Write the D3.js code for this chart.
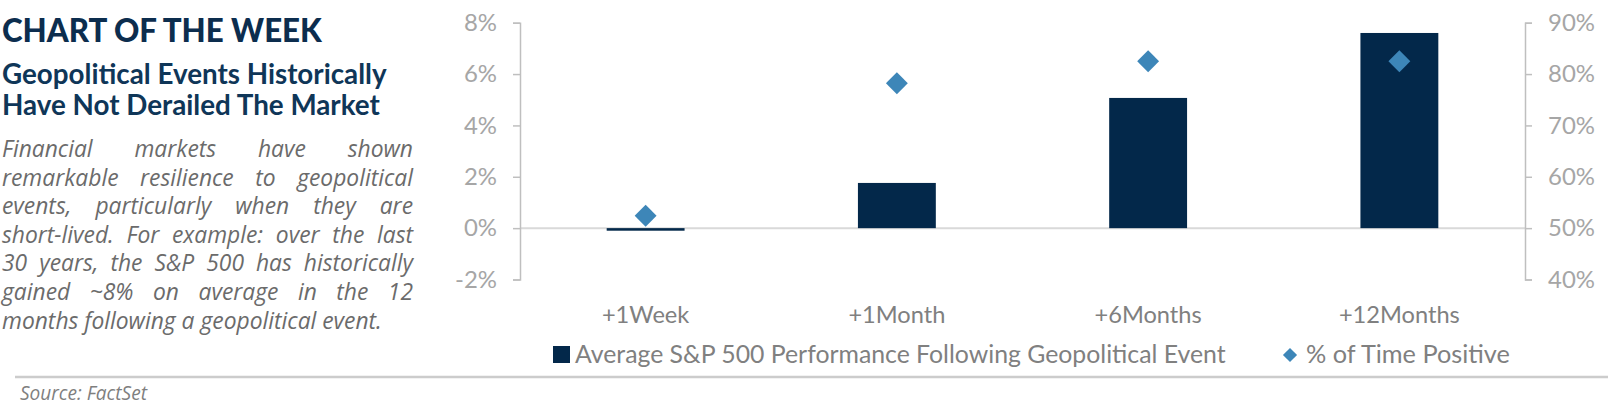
<!DOCTYPE html>
<html>
<head>
<meta charset="utf-8">
<script src="https://cdn.jsdelivr.net/npm/d3@7"></script>
<style>
  html, body { margin: 0; padding: 0; background: #fff; }
  svg { display: block; }
</style>
</head>
<body>
<div id="chart-wrapper"></div>
<script>
// Data
const categories = ["+1Week", "+1Month", "+6Months", "+12Months"];
const avgPerformance = [-0.1, 1.76, 5.07, 7.6];      // % (left axis)
const pctTimePositive = [52.4, 78.2, 82.5, 82.5];    // % (right axis)
const leftTicks = [-2, 0, 2, 4, 6, 8];
const rightTicks = [40, 50, 60, 70, 80, 90];
const legendLabels = ["Average S&P 500 Performance Following Geopolitical Event", "% of Time Positive"];

const titleText = "CHART OF THE WEEK";
const subtitleLines = ["Geopolitical Events Historically", "Have Not Derailed The Market"];
const bodyLines = [
  "Financial markets have shown",
  "remarkable resilience to geopolitical",
  "events, particularly when they are",
  "short-lived. For example: over the last",
  "30 years, the S&P 500 has historically",
  "gained ~8% on average in the 12",
  "months following a geopolitical event."
];
const sourceText = "Source: FactSet";

const width = 1620;
const height = 405;
const plot = {left: 520, right: 1525, top: 22.7, bottom: 279.5};

const navy = "#03284a";
const blue = "#3d86b8";
const axisGrey = "#bfbfbf";
const chartFont = "Lato, 'DejaVu Sans', sans-serif";

const svg = d3.select("#chart-wrapper").append("svg")
  .attr("width", width)
  .attr("height", height)
  .attr("viewBox", [0, 0, width, height]);

// grow/shrink font size so a text spans a given width
function fitWidth(sel, target) {
  const w = sel.node().getComputedTextLength();
  const fs = parseFloat(sel.attr("font-size"));
  sel.attr("font-size", fs * target / w);
  return fs * target / w;
}

// Left panel
const title = svg.append("text")
  .attr("x", 2).attr("y", 42)
  .attr("font-family", "Lato, sans-serif")
  .attr("font-weight", 900)
  .attr("font-size", 30)
  .attr("fill", "#0c2d4e")
  .text(titleText);
fitWidth(title, 320);

let subSize = 26;
subtitleLines.forEach((line, i) => {
  const t = svg.append("text")
    .attr("x", 2).attr("y", 84 + i * 31)
    .attr("font-family", "Lato, sans-serif")
    .attr("font-weight", 700)
    .attr("font-size", subSize)
    .attr("fill", "#0f3658")
    .text(line);
  if (i === 0) subSize = fitWidth(t, 385);
});

// justified italic paragraph
const body = svg.append("g")
  .attr("font-family", "'Open Sans', sans-serif")
  .attr("font-style", "italic")
  .attr("fill", "#6b6b6b");
const probe = body.append("text").attr("font-size", 20).text(bodyLines[bodyLines.length - 1]);
const bodySize = fitWidth(probe, 380);
probe.remove();

const bodyLeft = 2, bodyRight = 413;
bodyLines.forEach((line, i) => {
  const y = 157 + i * 28.6;
  if (i === bodyLines.length - 1) {
    body.append("text").attr("x", bodyLeft).attr("y", y).attr("font-size", bodySize).text(line);
    return;
  }
  const words = line.split(" ");
  const nodes = words.map(w => body.append("text").attr("y", y).attr("font-size", bodySize).text(w));
  const widths = nodes.map(n => n.node().getComputedTextLength());
  const gap = (bodyRight - bodyLeft - d3.sum(widths)) / (words.length - 1);
  let x = bodyLeft;
  nodes.forEach((n, j) => { n.attr("x", x); x += widths[j] + gap; });
});

// separator and source
svg.append("line")
  .attr("x1", 15).attr("x2", 1608)
  .attr("y1", 377).attr("y2", 377)
  .attr("stroke", "#cccccc")
  .attr("stroke-width", 2.5);

const source = svg.append("text")
  .attr("x", 20).attr("y", 400)
  .attr("font-family", "'Open Sans', sans-serif")
  .attr("font-style", "italic")
  .attr("font-size", 15)
  .attr("fill", "#7f7f7f")
  .text(sourceText);
fitWidth(source, 127);

// Scales
const x = d3.scaleBand()
  .domain(categories)
  .range([plot.left, plot.right])
  .paddingInner(0.69)
  .paddingOuter(0.345);

const yLeft = d3.scaleLinear()
  .domain([-2, 8])
  .range([plot.bottom, plot.top]);

const yRight = d3.scaleLinear()
  .domain([40, 90])
  .range([plot.bottom, plot.top]);

// zero line
svg.append("line")
  .attr("x1", plot.left).attr("x2", plot.right)
  .attr("y1", yLeft(0)).attr("y2", yLeft(0))
  .attr("stroke", "#d9d9d9")
  .attr("stroke-width", 2);

// measure a label in the chart font to size tick labels
const tickProbe = svg.append("text").attr("font-family", chartFont).attr("font-size", 21).text("90%");
const tickSize = fitWidth(tickProbe, 47);
tickProbe.remove();

function styleAxis(g) {
  g.select(".domain").attr("stroke", axisGrey).attr("stroke-width", 1.5);
  g.selectAll(".tick line").attr("stroke", axisGrey).attr("stroke-width", 1.5);
  g.selectAll(".tick text")
    .attr("fill", "#a6a6a6")
    .style("font-family", chartFont)
    .style("font-size", tickSize + "px");
}

svg.append("g")
  .attr("transform", `translate(${plot.left},0)`)
  .call(d3.axisLeft(yLeft).tickValues(leftTicks).tickSize(7).tickPadding(16).tickFormat(d => d + "%"))
  .call(styleAxis);

svg.append("g")
  .attr("transform", `translate(${plot.right},0)`)
  .call(d3.axisRight(yRight).tickValues(rightTicks).tickSize(7).tickPadding(16).tickFormat(d => d + "%"))
  .call(styleAxis);

// category labels
const catLabels = svg.append("g")
  .selectAll("text")
  .data(categories)
  .join("text")
    .attr("x", d => x(d) + x.bandwidth() / 2)
    .attr("y", 323)
    .attr("text-anchor", "middle")
    .attr("font-family", chartFont)
    .attr("font-size", 22)
    .attr("fill", "#808080")
    .text(d => d);
const catSize = fitWidth(d3.select(catLabels.nodes()[3]), 121);
catLabels.attr("font-size", catSize);

// Bars
svg.append("g")
  .selectAll("rect")
  .data(avgPerformance)
  .join("rect")
    .attr("x", (d, i) => x(categories[i]))
    .attr("width", x.bandwidth())
    .attr("y", d => Math.min(yLeft(d), yLeft(0)))
    .attr("height", d => Math.abs(yLeft(d) - yLeft(0)))
    .attr("fill", navy);

// Diamonds
const diamond = d3.symbol().type(d3.symbolSquare).size(240);
svg.append("g")
  .selectAll("path")
  .data(pctTimePositive)
  .join("path")
    .attr("d", diamond)
    .attr("transform", (d, i) => `translate(${x(categories[i]) + x.bandwidth() / 2},${yRight(d)}) rotate(45)`)
    .attr("fill", blue);

// Legend
const legend = svg.append("g")
  .attr("font-family", chartFont)
  .attr("fill", "#808080");

legend.append("rect")
  .attr("x", 553).attr("y", 346)
  .attr("width", 17).attr("height", 17)
  .attr("fill", navy);
const leg1 = legend.append("text")
  .attr("x", 575).attr("y", 363)
  .attr("font-size", 22)
  .text(legendLabels[0]);
fitWidth(leg1, 651);

legend.append("path")
  .attr("d", d3.symbol().type(d3.symbolSquare).size(100))
  .attr("transform", "translate(1290,355) rotate(45)")
  .attr("fill", blue);
const leg2 = legend.append("text")
  .attr("x", 1306).attr("y", 363)
  .attr("font-size", 22)
  .text(legendLabels[1]);
fitWidth(leg2, 204);
</script>
</body>
</html>
